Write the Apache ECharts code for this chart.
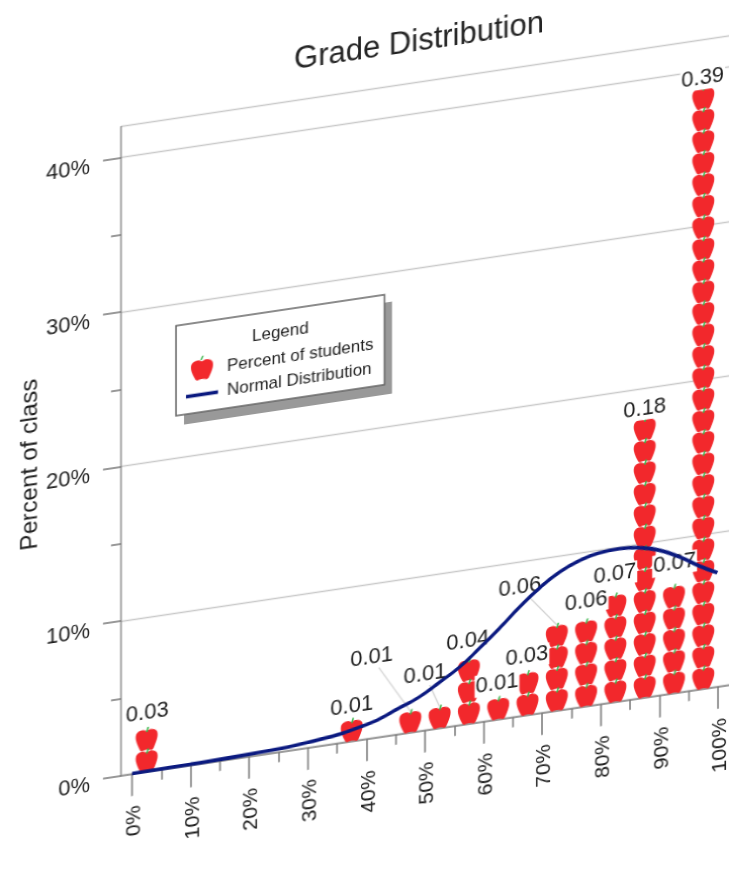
<!DOCTYPE html>
<html>
<head>
<meta charset="utf-8">
<style>
html,body{margin:0;padding:0;width:729px;height:874px;overflow:hidden;background:#fff}
#wrap{position:absolute;left:0;top:0;width:729px;height:874px;overflow:hidden;background:#fff}
#chart{position:absolute;left:0;top:0;width:800px;height:1010px;transform-origin:0 0;transform:matrix(1,-0.149,0,1,0,0);filter:blur(0.35px)}
</style>
<script src="https://cdn.jsdelivr.net/npm/echarts@6/dist/echarts.min.js"></script>
</head>
<body>
<div id="wrap"><div id="chart"></div></div>
<script>
// Grade bins (centre of each bin, % grade)
const binCenters   = [2.5, 37.5, 47.5, 52.5, 57.5, 62.5, 67.5, 72.5, 77.5, 82.5, 87.5, 92.5, 97.5];
// Number of apples (students) in each bin
const appleCounts  = [2, 1, 1, 1, 3, 1, 2, 4, 4, 5, 13, 5, 28];
// Data labels as printed
const valueLabels  = ['0.03','0.01','0.01','0.01','0.04','0.01','0.03','0.06','0.06','0.07','0.18','0.07','0.39'];
// Where each label sits, in data units
const labelXs      = [2.6, 37.5, 40.9, 50, 57.3, 62.3, 67.4, 66.2, 77.5, 82.4, 87.5, 92.6, 97.4];
const labelYs      = [3.83, 2.24, 5.22, 3.6, 5.33, 2.33, 3.79, 8.32, 6.78, 8.25, 18.7, 8.38, 39.5];
const labelLeaders = [false,false,true,true,false,false,false,true,false,false,false,false,false];
// Percent of class carried by one apple
const percentPerApple = 1.39;
// Normal distribution curve
const curveX = [0, 10, 20, 30, 40, 45.7, 49.1, 52.6, 56, 59.4, 62.8, 66.2, 69.6, 73, 76.4, 79.7, 83.2, 86.6, 90, 93.4, 96.8, 99.9];
const curveY = [0.03, 0.07, 0.15, 0.35, 0.93, 1.71, 2.23, 3.0, 3.79, 4.82, 5.92, 7.09, 8.12, 8.95, 9.5, 9.8, 9.88, 9.75, 9.4, 8.78, 8.0, 7.38];
// Ticks
const xMajorTicks = [0,10,20,30,40,50,60,70,80,90,100];
const xMinorTicks = [5,15,25,35,45,55,65,75,85,95];
const yMajorTicks = [0,10,20,30,40];
const yMinorTicks = [5,15,25,35];

const APPLE = 'M50 18C40 8 14 8 5 24C-3 42 8 66 18 86C22 97 30 100 36 96C44 93 56 93 64 96C70 100 78 97 82 86C92 66 103 42 95 24C86 8 60 8 50 18Z';
const RED = '#f2282c', GREEN = '#39b54a', NAVY = '#0b1a80', TXT = '#1f1f1f';
const FF = '"Liberation Sans", Arial, sans-serif';
const XMIN = -1.877, XMAX = 112.3, YMAX = 42;

const chart = echarts.init(document.getElementById('chart'));
const xBase = {type:'value', min:XMIN, max:XMAX, position:'bottom', splitLine:{show:false}};
const yBase = {type:'value', min:0, max:YMAX, interval:10, position:'left'};
const gridLine = {color:'#c9c9c9', width:1.4};

chart.setOption({
  animation:false,
  backgroundColor:'transparent',
  title:{text:'Grade Distribution', left:414, top:84, textAlign:'center',
    textStyle:{fontFamily:FF, fontSize:31, fontWeight:'normal', color:'#222'}},
  grid:{left:121, top:144.7, width:669, height:649, outerBoundsMode:'none'},
  legend:{
    orient:'vertical', left:176, top:352, padding:[38,11,9,10],
    itemWidth:32, itemHeight:20, itemGap:6,
    backgroundColor:'#fff', borderColor:'#666', borderWidth:1.5,
    textStyle:{fontFamily:FF, fontSize:17, color:TXT, padding:[0,0,0,4]},
    data:[{name:'Percent of students', icon:'path://'+APPLE},{name:'Normal Distribution', icon:'path://M0 0H32V3.6H0Z'}]
  },
  graphic:[
    {type:'rect', z:1, shape:{x:184, y:360, width:208, height:92}, style:{fill:'#999'}},
    {type:'text', z:100, left:252, top:366, style:{text:'Legend', fontFamily:FF, fontSize:17, fill:TXT}},
    {type:'line', z:100, shape:{x1:201,y1:390,x2:203,y2:386}, style:{stroke:GREEN, lineWidth:1.5}}
  ],
  xAxis:[
    Object.assign({}, xBase, {
      axisLine:{show:true, onZero:false, lineStyle:{color:'#8a8a8a', width:1.5}},
      axisTick:{show:true, length:22, customValues:xMajorTicks, lineStyle:{color:'#777', width:1.5}},
      axisLabel:{show:true, rotate:90, margin:32, customValues:xMajorTicks, formatter:v=>'{a|'+v+'%}',
        rich:{a:{fontFamily:FF, fontSize:21, color:TXT, padding:[5,0,0,0]}}}
    }),
    Object.assign({}, xBase, {
      axisLine:{show:false, onZero:false},
      axisTick:{show:true, length:10, customValues:xMinorTicks, lineStyle:{color:'#777', width:1.5}},
      axisLabel:{show:false}
    })
  ],
  yAxis:[
    Object.assign({}, yBase, {
      name:'Percent of class', nameLocation:'middle', nameGap:79, nameRotate:90, nameMoveOverlap:false,
      nameTextStyle:{fontFamily:FF, fontSize:24, color:TXT},
      axisLine:{show:true, onZero:false, lineStyle:{color:'#8a8a8a', width:1.5}},
      axisTick:{show:true, length:18, customValues:yMajorTicks, lineStyle:{color:'#777', width:1.5}},
      axisLabel:{show:true, margin:31, customValues:yMajorTicks, formatter:v=>'{a|'+v+'%}',
        rich:{a:{fontFamily:FF, fontSize:22, color:TXT, padding:[11,0,0,0]}}},
      splitLine:{show:true, lineStyle:gridLine}
    }),
    Object.assign({}, yBase, {
      axisLine:{show:false, onZero:false},
      axisTick:{show:true, length:10, customValues:yMinorTicks, lineStyle:{color:'#777', width:1.5}},
      axisLabel:{show:false},
      splitLine:{show:false}
    }),
    {type:'value', min:0, max:YMAX, interval:YMAX, position:'left',
      axisLine:{show:false, onZero:false}, axisTick:{show:false}, axisLabel:{show:false},
      splitLine:{show:true, lineStyle:gridLine}}
  ],
  series:[
    {
      name:'Percent of students', type:'custom', coordinateSystem:'cartesian2d', z:2, clip:false,
      itemStyle:{color:RED},
      data:binCenters.map((c,i)=>[c, appleCounts[i]]),
      renderItem:(params, api)=>{
        const x = api.value(0), n = api.value(1), children = [];
        for(let k=0;k<n;k++){
          const p = api.coord([x,(k+0.5)*percentPerApple]);
          children.push({type:'path', shape:{pathData:APPLE, layout:'cover', x:p[0]-11, y:p[1]-10, width:22, height:21},
            style:{fill:RED}});
        }
        for(let k=0;k<n;k++){
          const p = api.coord([x,(k+0.5)*percentPerApple]);
          children.push({type:'line', shape:{x1:p[0],y1:p[1]-7.5,x2:p[0]+1.6,y2:p[1]-12.5},
            style:{stroke:GREEN, lineWidth:1.6}});
        }
        return {type:'group', children};
      }
    },
    {
      type:'custom', coordinateSystem:'cartesian2d', z:3, clip:false, silent:true,
      data:binCenters.map((c,i)=>[c, appleCounts[i]]),
      renderItem:(params, api)=>{
        const i = params.dataIndex, children = [];
        const lp = api.coord([labelXs[i], labelYs[i]]);
        if(labelLeaders[i]){
          const top = api.coord([binCenters[i], appleCounts[i]*percentPerApple]);
          children.push({type:'line', shape:{x1:lp[0],y1:lp[1],x2:top[0],y2:top[1]}, style:{stroke:'#d0d0d0', lineWidth:1.2}});
        }
        children.push({type:'text', x:lp[0], y:lp[1], style:{text:valueLabels[i], align:'center', verticalAlign:'middle',
          fontFamily:FF, fontSize:22, fill:TXT, backgroundColor:'#fff', padding:[0,1,0,1]}});
        return {type:'group', children};
      }
    },
    {
      name:'Normal Distribution', type:'line', z:4, smooth:0.5, showSymbol:false, symbol:'none',
      lineStyle:{color:NAVY, width:3.6}, itemStyle:{color:NAVY},
      data:curveX.map((x,i)=>[x,curveY[i]])
    }
  ]
});
</script>
</body>
</html>
